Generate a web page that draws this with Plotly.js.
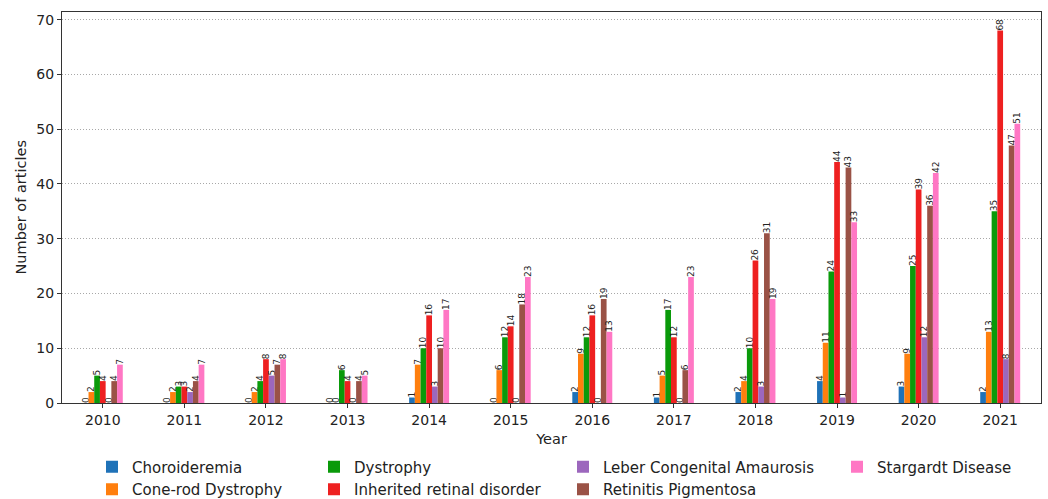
<!DOCTYPE html>
<html>
<head>
<meta charset="utf-8">
<script src="https://cdn.plot.ly/plotly-3.0.1.min.js"></script>
<style>
  html, body { margin: 0; padding: 0; background: #fff; }
  #chart { width: 1048px; height: 499px; }
</style>
</head>
<body>
<div id="chart"></div>
<script>
const years = [2010, 2011, 2012, 2013, 2014, 2015, 2016, 2017, 2018, 2019, 2020, 2021];
const seriesNames = ["Choroideremia", "Cone-rod Dystrophy", "Dystrophy", "Inherited retinal disorder", "Leber Congenital Amaurosis", "Retinitis Pigmentosa", "Stargardt Disease"];
const choroideremia = [0, 0, 0, 0, 1, 0, 2, 1, 2, 4, 3, 2];
const coneRodDystrophy = [2, 2, 2, 0, 7, 6, 9, 5, 4, 11, 9, 13];
const dystrophy = [5, 3, 4, 6, 10, 12, 12, 17, 10, 24, 25, 35];
const inheritedRetinalDisorder = [4, 3, 8, 4, 16, 14, 16, 12, 26, 44, 39, 68];
const leberCongenitalAmaurosis = [0, 2, 5, 0, 3, 0, 0, 0, 3, 1, 12, 8];
const retinitisPigmentosa = [4, 4, 7, 4, 10, 18, 19, 6, 31, 43, 36, 47];
const stargardtDisease = [7, 7, 8, 5, 17, 23, 13, 23, 19, 33, 42, 51];
const yTicks = [0, 10, 20, 30, 40, 50, 60, 70];
const xTitle = "Year";
const yTitle = "Number of articles";

const seriesValues = [choroideremia, coneRodDystrophy, dystrophy, inheritedRetinalDisorder, leberCongenitalAmaurosis, retinitisPigmentosa, stargardtDisease];
const colors = ["#1f72b8", "#ff7f0e", "#0a9a0a", "#ee2020", "#9c67bd", "#9a5246", "#ff77c4"];
const legendIds = ["legend", "legend", "legend2", "legend2", "legend3", "legend3", "legend4"];

const font = "DejaVu Sans, Liberation Sans, sans-serif";

const traces = seriesNames.map((name, i) => ({
  type: "bar",
  name: name,
  x: years,
  y: seriesValues[i],
  marker: { color: colors[i], line: { width: 0 } },
  text: seriesValues[i].map(String),
  texttemplate: "%{text}",
  textposition: "outside",
  textangle: -90,
  textfont: { family: font, size: 9, color: "#222" },
  constraintext: "none",
  cliponaxis: false,
  legend: legendIds[i],
  hoverinfo: "x+y+name"
}));

const legendBase = {
  orientation: "v",
  xref: "container",
  yref: "container",
  xanchor: "left",
  yanchor: "top",
  y: 0.097,
  font: { family: font, size: 15, color: "#222" },
  bgcolor: "rgba(0,0,0,0)",
  borderwidth: 0,
  itemwidth: 30,
  tracegroupgap: 0
};

const layout = {
  width: 1048,
  height: 499,
  margin: { l: 62, r: 7, t: 12, b: 96, autoexpand: false },
  paper_bgcolor: "#fff",
  plot_bgcolor: "#fff",
  font: { family: font, size: 14, color: "#222" },
  barmode: "group",
  bargap: 0.51,
  bargroupgap: 0,
  showlegend: true,
  xaxis: {
    range: [2009.5, 2021.5],
    tickvals: years,
    ticktext: years.map(String),
    tickangle: 0,
    ticks: "outside",
    ticklen: 4,
    tickcolor: "#333",
    showline: true,
    mirror: true,
    linecolor: "#333",
    linewidth: 1,
    showgrid: false,
    zeroline: false,
    tickfont: { family: font, size: 14, color: "#222" },
    title: { text: xTitle, font: { family: font, size: 14.5, color: "#222" }, standoff: 7 }
  },
  yaxis: {
    range: [0, 71.4],
    tickvals: yTicks,
    ticks: "outside",
    ticklen: 4,
    tickcolor: "#333",
    showline: true,
    mirror: true,
    linecolor: "#333",
    linewidth: 1,
    showgrid: true,
    gridcolor: "#a8a8a8",
    griddash: "1px,2px",
    gridwidth: 1,
    zeroline: false,
    tickfont: { family: font, size: 14, color: "#222" }
  },
  annotations: [{
    text: yTitle,
    xref: "paper",
    yref: "paper",
    x: -0.0429,
    y: 0.5,
    xanchor: "center",
    yanchor: "middle",
    textangle: -90,
    showarrow: false,
    font: { family: font, size: 14.5, color: "#222" }
  }],
  legend: Object.assign({}, legendBase, { x: 92 / 1048 }),
  legend2: Object.assign({}, legendBase, { x: 314 / 1048 }),
  legend3: Object.assign({}, legendBase, { x: 563 / 1048 }),
  legend4: Object.assign({}, legendBase, { x: 837 / 1048 })
};

Plotly.newPlot("chart", traces, layout, { displayModeBar: false, staticPlot: true });
</script>
</body>
</html>
